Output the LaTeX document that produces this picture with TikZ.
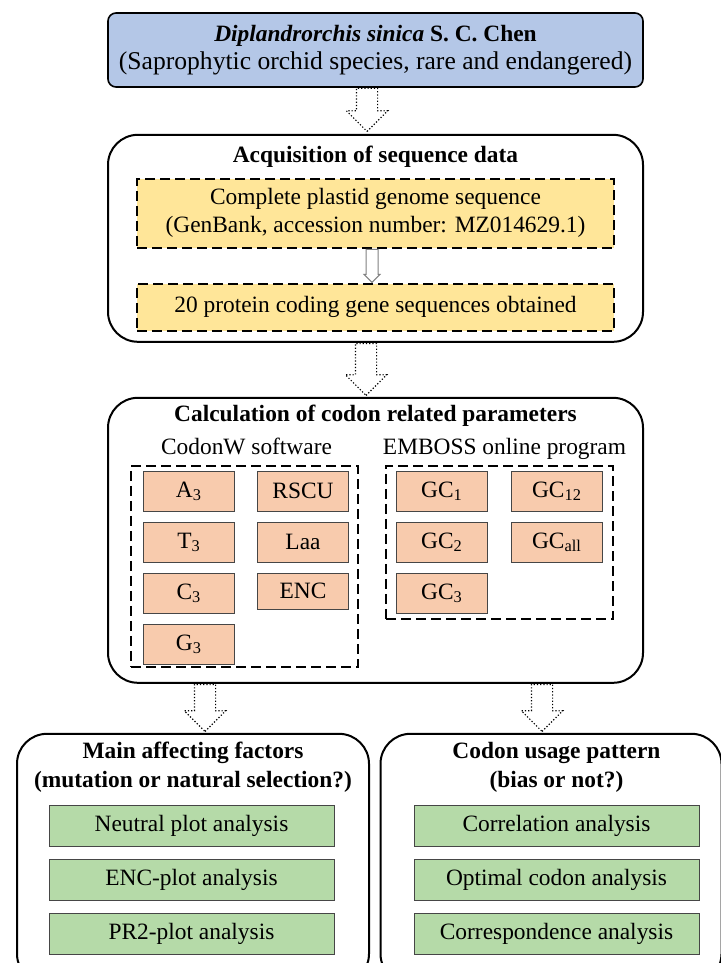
\documentclass[tikz,border=0pt]{standalone}
\usepackage{fontspec}
\setmainfont{Liberation Serif}
\usetikzlibrary{shapes.arrows,positioning,calc}
\definecolor{spblue}{HTML}{B4C7E7}
\definecolor{seqyellow}{HTML}{FFE699}
\definecolor{parorange}{HTML}{F8CBAD}
\definecolor{anagreen}{HTML}{B5DAA8}
\tikzset{
  spblk/.style ={rectangle, rounded corners=4pt, draw=black, line width=0.8pt,
                 fill=spblue, minimum width=267.5pt, minimum height=37pt,
                 align=center},
  grp/.style   ={rectangle, rounded corners=15pt, draw=black, line width=1pt,
                 minimum width=267.5pt},
  ttl/.style   ={font=\fontsize{11.7}{14.5}\selectfont\bfseries, align=center,
                 inner sep=0pt},
  lbl/.style   ={inner sep=0pt, anchor=base},
  seqblk/.style={rectangle, draw=black, line width=1pt,
                 dash pattern=on 5pt off 2.5pt, fill=seqyellow,
                 minimum width=238.5pt, align=center},
  dgrp/.style  ={rectangle, draw=black, line width=1pt,
                 dash pattern=on 5pt off 2.5pt, minimum width=113.5pt},
  parblk/.style={rectangle, draw=gray!55!black, line width=0.5pt,
                 fill=parorange, minimum width=45.5pt, minimum height=20pt,
                 inner sep=0pt},
  anablk/.style={rectangle, draw=gray!55!black, line width=0.5pt,
                 fill=anagreen, minimum width=142.5pt, minimum height=20.5pt,
                 inner sep=0pt},
  dotar/.style ={single arrow, draw=black, densely dotted, line width=0.6pt,
                 fill=white, rotate=-90, anchor=tail, inner xsep=0pt,
                 inner ysep=5pt, text height=0pt, text depth=0pt,
                 single arrow head extend=5pt, minimum width=0pt},
  thinar/.style={single arrow, draw=gray, line width=0.5pt, fill=white,
                 rotate=-90, anchor=tail, inner xsep=0pt, inner ysep=2.75pt,
                 text height=0pt, text depth=0pt,
                 single arrow head extend=1pt, minimum width=0pt,
                 minimum height=16.5pt}
}
\begin{document}
\begin{tikzpicture}[x=0.5pt, y=-0.5pt, font=\fontsize{11.7}{14}\selectfont]
\useasboundingbox (0,0) rectangle (721,963);
\clip (0,0) rectangle (721,963);
\node[spblk] (sp) at (375.5,50)
  {{\bfseries\itshape Diplandrorchis sinica} \textbf{S. C. Chen}\\
   {\fontsize{12.8}{14}\selectfont (Saprophytic orchid species, rare and endangered)}};
% sequence data
\node[grp, minimum height=103.5pt, below=23pt of sp] (acq) {};
\node[ttl, below=6pt of acq.north] (acqt) {Acquisition of sequence data};
\node[seqblk, minimum height=34.5pt, below=22pt of acq.north] (gen)
  {Complete plastid genome sequence\\(GenBank, accession number: MZ014629.1)};
\node[seqblk, minimum height=23.5pt, below=17pt of gen] (pcg)
  {20 protein coding gene sequences obtained};
\node[thinar] (ar0) at ([xshift=-1.75pt]gen.south) {};
\node[dotar, minimum height=21.5pt] (ar1) at ([xshift=-4.25pt]sp.south) {};
% codon parameters
\node[grp, minimum height=142.5pt, below=27pt of acq] (calc) {};
\node[ttl, below=4pt of calc.north] (calct) {Calculation of codon related parameters};
\node[dotar, minimum height=26pt] (ar2) at ([xshift=-4.75pt]acq.south) {};
\node[dgrp, minimum height=100.5pt, below right=34pt and 11.5pt of calc.north west] (cw) {};
\node[dgrp, minimum height=76.5pt, below left=34pt and 15pt of calc.north east] (em) {};
\node[lbl] (cwl) at ([xshift=1pt,yshift=5pt]cw.north) {CodonW software};
\node[lbl] (eml) at ([xshift=2.5pt,yshift=5pt]em.north) {EMBOSS online program};
\node[parblk, below right=3pt and 6.5pt of cw.north west] (a3) {A\textsubscript{3}};
\node[parblk, below=5pt of a3] (t3) {T\textsubscript{3}};
\node[parblk, below=5pt of t3] (c3) {C\textsubscript{3}};
\node[parblk, below=5pt of c3] (g3) {G\textsubscript{3}};
\node[parblk, right=11pt of a3] (rscu) {RSCU};
\node[parblk, below=5pt of rscu] (laa) {Laa};
\node[parblk, below=5pt of laa, minimum height=18pt] (enc) {ENC};
\node[parblk, below right=3pt and 5.5pt of em.north west] (gc1) {GC\textsubscript{1}};
\node[parblk, below=5pt of gc1] (gc2) {GC\textsubscript{2}};
\node[parblk, below=5pt of gc2] (gc3) {GC\textsubscript{3}};
\node[parblk, right=11.5pt of gc1] (gc12) {GC\textsubscript{12}};
\node[parblk, below=5pt of gc12] (gcall) {GC\textsubscript{all}};
% analyses
\node[grp, minimum width=176pt, minimum height=125pt, below=24.5pt of calc,
      xshift=-91.25pt] (maf) {};
\node[grp, minimum width=170.5pt, minimum height=125pt, below=24.5pt of calc,
      xshift=87.75pt] (cup) {};
\node[dotar, minimum height=23.5pt] (ar3) at ([xshift=-85.25pt]calc.south) {};
\node[dotar, minimum height=23.5pt] (ar4) at ([xshift=83.25pt]calc.south) {};
\node[ttl, below=4.5pt of maf.north] (maft)
  {Main affecting factors\\(mutation or natural selection?)};
\node[ttl, below=4.5pt of cup.north, xshift=2.75pt] (cupt)
  {Codon usage pattern\\(bias or not?)};
\node[anablk, below=36pt of maf.north, xshift=-0.75pt] (neu) {Neutral plot analysis};
\node[anablk, below=6pt of neu] (encp) {ENC-plot analysis};
\node[anablk, below=6pt of encp] (pr2) {PR2-plot analysis};
\node[anablk, below=36pt of cup.north, xshift=2.75pt] (cor) {Correlation analysis};
\node[anablk, below=6pt of cor] (opt) {Optimal codon analysis};
\node[anablk, below=6pt of opt] (coa) {Correspondence analysis};
\end{tikzpicture}
\end{document}
